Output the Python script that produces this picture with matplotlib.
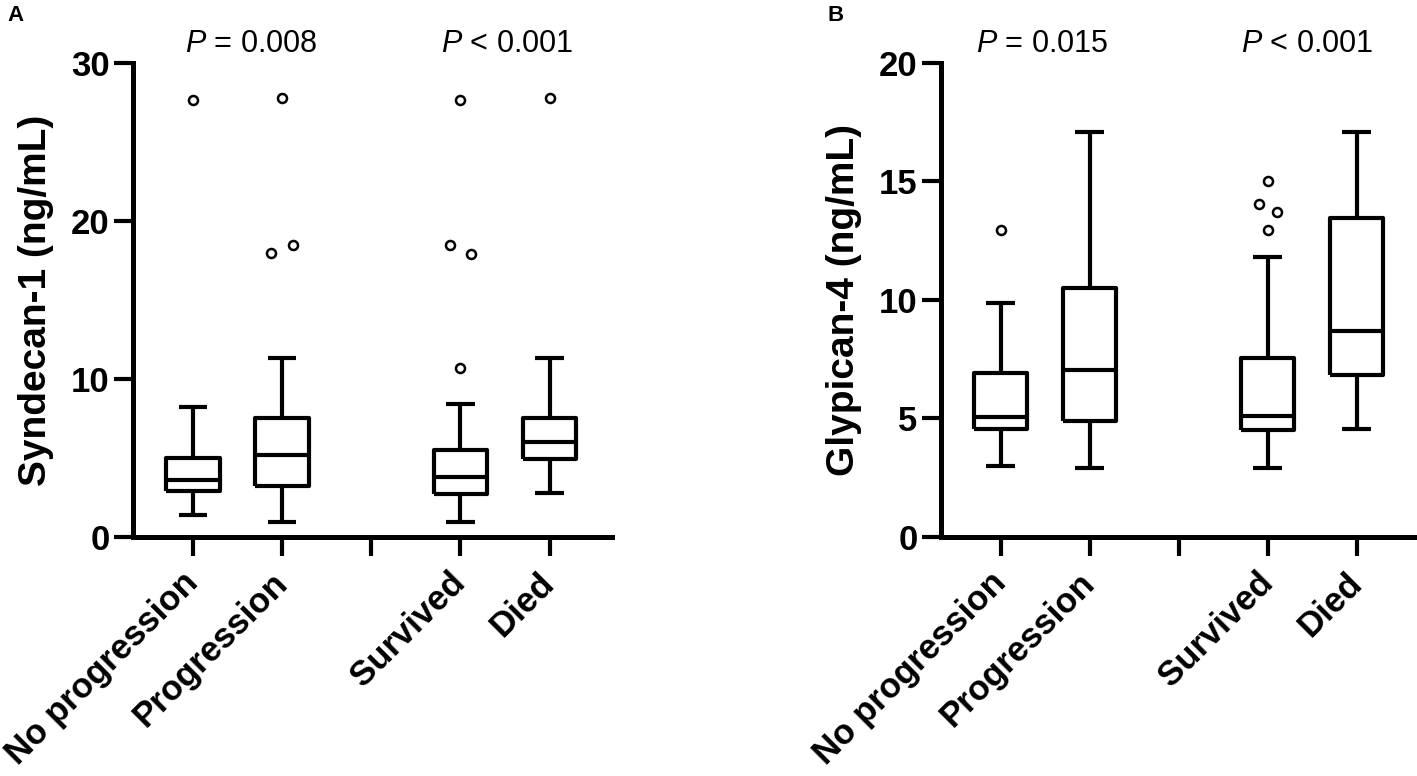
import numpy as np
import matplotlib
matplotlib.use("Agg")
from matplotlib import pyplot as plt
from matplotlib.transforms import blended_transform_factory

plt.rcParams['font.family'] = ['Liberation Sans', 'DejaVu Sans']
plt.rcParams['mathtext.fontset'] = 'custom'
plt.rcParams['mathtext.rm'] = 'Liberation Sans'
plt.rcParams['mathtext.it'] = 'Liberation Sans:italic'

# DATA =======================================================================
groups = ['No progression', 'Progression', '', 'Survived', 'Died']
box_pos = [0, 1, 3, 4]

# panel A: Syndecan-1 (ng/mL)
syn_whislo = [1.4, 0.95, 0.95, 2.8]
syn_q1     = [2.9, 3.25, 2.75, 4.95]
syn_med    = [3.6, 5.2, 3.8, 6.0]
syn_q3     = [5.0, 7.5, 5.5, 7.5]
syn_whishi = [8.2, 11.3, 8.4, 11.3]
syn_fliers = [[27.65], [27.8, 17.95, 18.45], [27.65, 18.45, 17.9, 10.7], [27.8]]
syn_flier_dx = [[0.0], [0.0, -0.12, 0.12], [0.0, -0.12, 0.12, 0.0], [0.0]]
syn_p = ['$P$ = 0.008', '$P$ < 0.001']

# panel B: Glypican-4 (ng/mL)
gly_whislo = [3.0, 2.9, 2.9, 4.55]
gly_q1     = [4.55, 4.9, 4.5, 6.85]
gly_med    = [5.05, 7.05, 5.1, 8.7]
gly_q3     = [6.9, 10.5, 7.55, 13.45]
gly_whishi = [9.85, 17.1, 11.8, 17.1]
gly_fliers = [[12.95], [], [15.0, 14.05, 13.7, 12.95], []]
gly_flier_dx = [[0.0], [], [0.0, -0.1, 0.1, 0.0], []]
gly_p = ['$P$ = 0.015', '$P$ < 0.001']

LW = 3.0

def panel(ax, lo, q1, med, q3, hi, fliers, fdx, ylim, yticks, ylabel, ptexts, px):
    stats = []
    for i in range(len(med)):
        stats.append(dict(med=med[i], q1=q1[i], q3=q3[i], whislo=lo[i], whishi=hi[i], fliers=[]))
    lp = dict(color='black', linewidth=LW, solid_capstyle='butt')
    ax.bxp(stats, positions=box_pos, widths=0.6, capwidths=0.32, showfliers=False,
           boxprops=lp, whiskerprops=lp, capprops=lp, medianprops=lp)
    for p, fv, dx in zip(box_pos, fliers, fdx):
        if len(fv) == 0:
            continue
        ax.plot(np.array(dx) + p, fv, 'o', mfc='white', mec='black', ms=6.5, mew=1.8,
                clip_on=False, zorder=5)

    ax.set_xlim(-0.67, 4.7)
    ax.set_ylim(*ylim)
    ax.set_yticks(yticks)
    ax.set_xticks(range(len(groups)))
    ax.set_xticklabels(groups, rotation=45, ha='right', va='center',
                       rotation_mode='anchor', fontsize=25, fontweight='bold')
    ax.tick_params(axis='x', pad=16)
    for s in ['top', 'right']:
        ax.spines[s].set_visible(False)
    for s in ['left', 'bottom']:
        ax.spines[s].set_linewidth(3.6)
    ax.tick_params(length=13.5, width=3.0, labelsize=25)
    for t in ax.get_yticklabels():
        t.set_fontweight('bold')
    ax.set_ylabel(ylabel, fontsize=28, fontweight='bold', labelpad=12)

    trans = blended_transform_factory(ax.transData, ax.transAxes)
    for x, t in zip(px, ptexts):
        ax.text(x, 1.022, t, transform=trans, ha='center', va='baseline', fontsize=22)


fig = plt.figure(figsize=(14.17, 7.76), dpi=100)

axA = fig.add_axes([0.0939, 0.308, 0.338, 0.611])
panel(axA, syn_whislo, syn_q1, syn_med, syn_q3, syn_whishi, syn_fliers, syn_flier_dx,
      (0, 30), [0, 10, 20, 30], 'Syndecan-1 (ng/mL)', syn_p, [0.65, 3.52])

axB = fig.add_axes([0.6641, 0.308, 0.3373, 0.611])
panel(axB, gly_whislo, gly_q1, gly_med, gly_q3, gly_whishi, gly_fliers, gly_flier_dx,
      (0, 20), [0, 5, 10, 15, 20], 'Glypican-4 (ng/mL)', gly_p, [0.47, 3.44])

fig.text(0.005, 0.993, 'A', fontsize=16, fontweight='bold', va='top', ha='left')
fig.text(0.584, 0.993, 'B', fontsize=16, fontweight='bold', va='top', ha='left')

fig.savefig('out.png', dpi=100)
